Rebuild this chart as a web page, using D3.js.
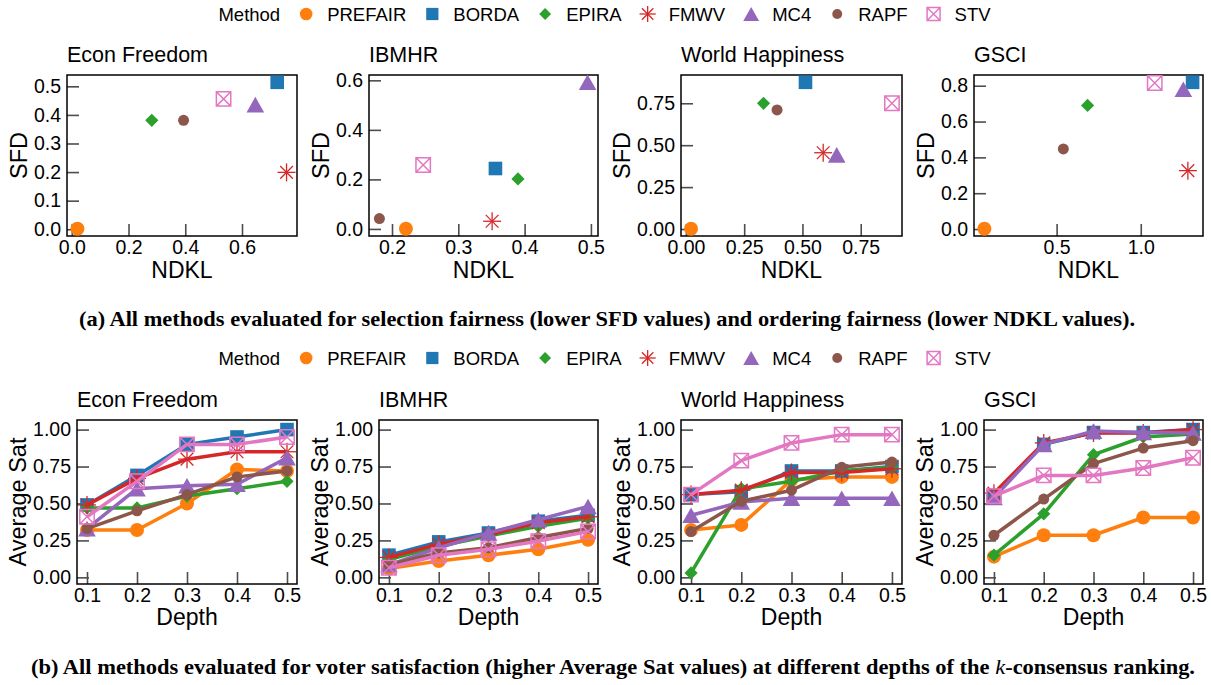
<!DOCTYPE html>
<html>
<head>
<meta charset="utf-8">
<script src="https://cdn.jsdelivr.net/npm/d3@7"></script>
<style>
body { margin: 0; background: #fff; }
text { font-family: "Liberation Sans", Arial, sans-serif; fill: #000; }
.cap { font-family: "Liberation Serif", "DejaVu Serif", serif; font-weight: bold; }
</style>
</head>
<body>
<div id="chart"></div>
<script>
var methods = ["PREFAIR", "BORDA", "EPIRA", "FMWV", "MC4", "RAPF", "STV"];
var colors = ["#ff7f0e", "#1f77b4", "#2ca02c", "#d62728", "#9467bd", "#8c564b", "#e377c2"];
var datasets = ["Econ Freedom", "IBMHR", "World Happiness", "GSCI"];

// (a) NDKL / SFD per dataset, in method order
var econNdkl  = [0.02, 0.724, 0.282, 0.757, 0.647, 0.394, 0.535];
var econSfd   = [0.002, 0.514, 0.381, 0.199, 0.436, 0.381, 0.456];
var ibmhrNdkl = [0.221, 0.356, 0.39, 0.351, 0.495, 0.181, 0.247];
var ibmhrSfd  = [0.001, 0.244, 0.202, 0.031, 0.592, 0.042, 0.258];
var whNdkl    = [0.022, 0.513, 0.333, 0.589, 0.647, 0.391, 0.884];
var whSfd     = [0.002, 0.875, 0.75, 0.455, 0.442, 0.71, 0.75];
var gsciNdkl  = [0.071, 1.308, 0.684, 1.28, 1.253, 0.54, 1.083];
var gsciSfd   = [0.002, 0.819, 0.69, 0.326, 0.78, 0.447, 0.815];

// (b) Average Sat per depth, rows in method order
var depths = [0.1, 0.2, 0.3, 0.4, 0.5];
var econSat = [
  [0.32, 0.32, 0.50, 0.73, 0.72],
  [0.49, 0.69, 0.90, 0.95, 1.00],
  [0.47, 0.47, 0.55, 0.60, 0.65],
  [0.49, 0.67, 0.80, 0.85, 0.85],
  [0.33, 0.60, 0.62, 0.63, 0.81],
  [0.33, 0.45, 0.56, 0.68, 0.72],
  [0.41, 0.65, 0.90, 0.90, 0.95]
];
var ibmhrSat = [
  [0.06, 0.11, 0.15, 0.19, 0.255],
  [0.15, 0.24, 0.30, 0.38, 0.42],
  [0.12, 0.21, 0.28, 0.345, 0.40],
  [0.135, 0.225, 0.29, 0.37, 0.41],
  [0.085, 0.20, 0.30, 0.39, 0.48],
  [0.085, 0.165, 0.20, 0.27, 0.33],
  [0.065, 0.15, 0.19, 0.245, 0.31]
];
var whSat = [
  [0.32, 0.355, 0.66, 0.68, 0.68],
  [0.56, 0.58, 0.72, 0.72, 0.75],
  [0.03, 0.60, 0.65, 0.72, 0.745],
  [0.56, 0.59, 0.71, 0.71, 0.735],
  [0.42, 0.51, 0.535, 0.535, 0.535],
  [0.31, 0.515, 0.59, 0.745, 0.78],
  [0.56, 0.79, 0.91, 0.966, 0.966]
];
var gsciSat = [
  [0.14, 0.285, 0.285, 0.405, 0.405],
  [0.555, 0.90, 0.98, 0.98, 1.00],
  [0.15, 0.43, 0.83, 0.95, 0.97],
  [0.57, 0.91, 0.977, 0.977, 1.00],
  [0.54, 0.90, 0.99, 0.98, 0.977],
  [0.285, 0.53, 0.77, 0.875, 0.925],
  [0.55, 0.69, 0.69, 0.74, 0.81]
];

// tick labels
var topXTicks = [[0, 0.2, 0.4, 0.6], [0.2, 0.3, 0.4, 0.5], [0, 0.25, 0.5, 0.75], [0.5, 1.0]];
var topYTicks = [[0, 0.1, 0.2, 0.3, 0.4, 0.5], [0, 0.2, 0.4, 0.6], [0, 0.25, 0.5, 0.75], [0, 0.2, 0.4, 0.6, 0.8]];
var topFmt = [".1f", ".1f", ".2f", ".1f"];
var satTicks = [0, 0.25, 0.5, 0.75, 1.0];

var topX = [econNdkl, ibmhrNdkl, whNdkl, gsciNdkl];
var topY = [econSfd, ibmhrSfd, whSfd, gsciSfd];
var sats = [econSat, ibmhrSat, whSat, gsciSat];

var svg = d3.select("#chart").append("svg")
    .attr("width", 1211)
    .attr("height", 685);

var topFrames = [{l: 67, r: 297}, {l: 369, r: 598}, {l: 681, r: 902}, {l: 974, r: 1203}];
var botFrames = [{l: 77, r: 297}, {l: 379, r: 598}, {l: 681, r: 902}, {l: 984, r: 1203}];

function pad(a) {
  var e = d3.extent(a), m = (e[1] - e[0]) * 0.05;
  return [e[0] - m, e[1] + m];
}

function marker(g, k, cx, cy, s) {
  var c = colors[k];
  var m = g.append("g").attr("transform", "translate(" + cx + "," + cy + ")");
  if (k == 0) {
    m.append("circle").attr("r", 7 * s).attr("fill", c);
  } else if (k == 1) {
    m.append("rect").attr("x", -6.8 * s).attr("y", -6.8 * s)
      .attr("width", 13.6 * s).attr("height", 13.6 * s).attr("fill", c);
  } else if (k == 2) {
    var d = 6.6 * s;
    m.append("path").attr("d", "M0," + (-d) + "L" + d + ",0L0," + d + "L" + (-d) + ",0Z").attr("fill", c);
  } else if (k == 3) {
    var r = 9 * s;
    for (var a = 0; a < 4; a++) {
      var t = a * Math.PI / 4;
      m.append("line")
        .attr("x1", -r * Math.cos(t)).attr("y1", -r * Math.sin(t))
        .attr("x2", r * Math.cos(t)).attr("y2", r * Math.sin(t))
        .attr("stroke", c).attr("stroke-width", 1.3);
    }
  } else if (k == 4) {
    var w = 8.8 * s, h = 7.8 * s;
    m.append("path").attr("d", "M0," + (-h) + "L" + w + "," + h + "L" + (-w) + "," + h + "Z").attr("fill", c);
  } else if (k == 5) {
    m.append("circle").attr("r", 5.5 * s).attr("fill", c);
  } else {
    var b = 7.2 * s;
    m.append("path")
      .attr("d", "M" + (-b) + "," + (-b) + "H" + b + "V" + b + "H" + (-b) + "Z" +
                 "M" + (-b) + "," + (-b) + "L" + b + "," + b + "M" + b + "," + (-b) + "L" + (-b) + "," + b)
      .attr("fill", "none").attr("stroke", c).attr("stroke-width", 1.5);
  }
}

function styleAxis(ax) {
  ax.attr("font-size", null).attr("font-family", null);
  ax.select(".domain").remove();
  ax.selectAll(".tick line").attr("stroke", "#4d4d4d").attr("stroke-width", 1.6);
  ax.selectAll(".tick text").style("font-size", "19.5px").attr("fill", "#000");
}

function panel(f, yr, xDom, yDom, xTicks, yTicks, xFmt, yFmt, title, xLabel, yLabel, xLabY) {
  var x = d3.scaleLinear().domain(xDom).range([f.l, f.r]);
  var y = d3.scaleLinear().domain(yDom).range([yr[1], yr[0]]);
  var g = svg.append("g");

  var ya = g.append("g")
      .attr("transform", "translate(" + f.l + ",0)")
      .call(d3.axisLeft(y).tickValues(yTicks).tickFormat(d3.format(yFmt))
        .tickSizeInner(-12).tickSizeOuter(0).tickPadding(6));
  styleAxis(ya);

  var xa = g.append("g")
      .attr("transform", "translate(0," + yr[1] + ")")
      .call(d3.axisBottom(x).tickValues(xTicks).tickFormat(d3.format(xFmt))
        .tickSizeInner(-12).tickSizeOuter(0).tickPadding(4));
  styleAxis(xa);

  g.append("rect")
      .attr("x", f.l).attr("y", yr[0])
      .attr("width", f.r - f.l).attr("height", yr[1] - yr[0])
      .attr("fill", "none").attr("stroke", "#000").attr("stroke-width", 1.5);

  g.append("text")
      .attr("x", f.l).attr("y", yr[0] - 13)
      .style("font-size", "21.5px")
      .text(title);

  g.append("text")
      .attr("x", (f.l + f.r) / 2).attr("y", xLabY)
      .attr("text-anchor", "middle")
      .style("font-size", "23px")
      .text(xLabel);

  var bb = ya.node().getBBox();
  g.append("text")
      .attr("transform", "translate(" + (f.l + bb.x - 7) + "," + ((yr[0] + yr[1]) / 2) + ") rotate(-90)")
      .attr("text-anchor", "middle")
      .style("font-size", "23.5px")
      .text(yLabel);

  return {g: g, x: x, y: y};
}

// top row: scatter
datasets.forEach(function(name, i) {
  var p = panel(topFrames[i], [75, 236], pad(topX[i]), pad(topY[i]),
    topXTicks[i], topYTicks[i], topFmt[i], topFmt[i], name, "NDKL", "SFD", 278);
  methods.forEach(function(m, k) {
    marker(p.g, k, p.x(topX[i][k]), p.y(topY[i][k]), 1);
  });
});

// bottom row: lines
datasets.forEach(function(name, i) {
  var p = panel(botFrames[i], [420, 584], [0.08, 0.52], [-0.045, 1.065],
    depths, satTicks, ".1f", ".2f", name, "Depth", "Average Sat", 625);
  var line = d3.line()
    .x(function(d, j) { return p.x(depths[j]); })
    .y(function(d) { return p.y(d); });
  methods.forEach(function(m, k) {
    var s = p.g.append("g");
    s.append("path")
      .datum(sats[i][k])
      .attr("d", line)
      .attr("fill", "none")
      .attr("stroke", colors[k])
      .attr("stroke-width", 3.5)
      .attr("stroke-linejoin", "round");
    sats[i][k].forEach(function(v, j) {
      marker(s, k, p.x(depths[j]), p.y(v), 1);
    });
  });
});

// legends
function legend(cy) {
  var g = svg.append("g");
  var t = g.append("text").attr("x", 0).attr("y", cy + 6.5).style("font-size", "18.5px").text("Method");
  var cur = t.node().getComputedTextLength();
  methods.forEach(function(m, k) {
    var mx = cur + 26;
    marker(g, k, mx, cy, 0.9);
    var tt = g.append("text").attr("x", mx + 21).attr("y", cy + 6.5).style("font-size", "18.5px").text(m);
    cur = mx + 21 + tt.node().getComputedTextLength();
  });
  g.attr("transform", "translate(" + (604.5 - cur / 2) + ",0)");
}
legend(14);
legend(358);

// captions
svg.append("text")
    .attr("class", "cap")
    .attr("x", 79).attr("y", 326)
    .attr("textLength", 1056)
    .attr("lengthAdjust", "spacingAndGlyphs")
    .style("font-size", "21px")
    .text("(a) All methods evaluated for selection fairness (lower SFD values) and ordering fairness (lower NDKL values).");

var cb = svg.append("text")
    .attr("class", "cap")
    .attr("x", 31).attr("y", 674)
    .attr("textLength", 1164)
    .attr("lengthAdjust", "spacingAndGlyphs")
    .style("font-size", "21px");
cb.append("tspan").text("(b) All methods evaluated for voter satisfaction (higher Average Sat values) at different depths of the ");
cb.append("tspan").style("font-style", "italic").style("font-weight", "normal").text("k");
cb.append("tspan").text("-consensus ranking.");
</script>
</body>
</html>
